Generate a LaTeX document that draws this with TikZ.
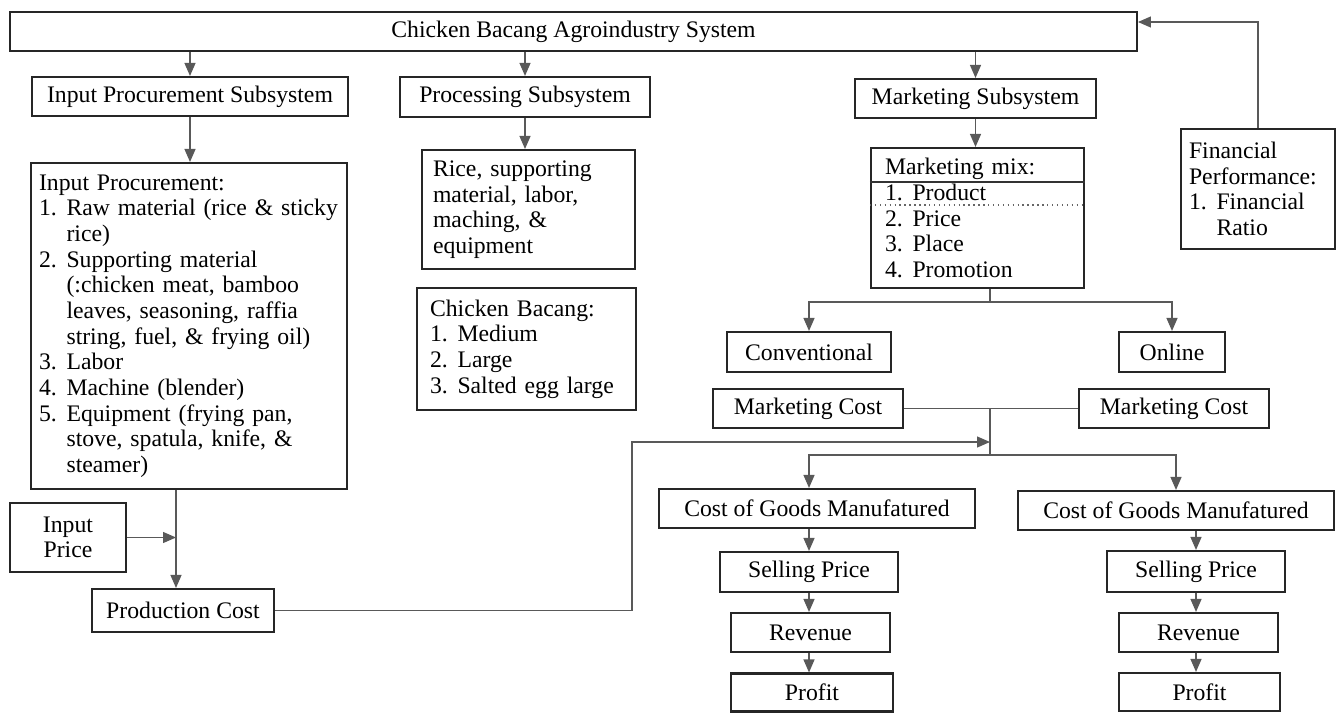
\documentclass[tikz,border=0pt]{standalone}
\usepackage{fontspec}
\setmainfont{Liberation Serif}
\usetikzlibrary{arrows.meta}
\newcommand{\itemno}[1]{\makebox[0.55cm][l]{#1}}
\newcommand{\itemind}{\hspace*{0.55cm}}
\begin{document}
\begin{tikzpicture}[x=0.02cm, y=-0.02cm,
    box/.style={draw=black!85, line width=1.2pt, rectangle, inner sep=0pt, font=\fontsize{13.5}{14.6}\selectfont},
    listbox/.style={box, align=left},
    link/.style={draw=black!65, line width=0.7pt},
    arr/.style={link, -{Triangle[length=2.6mm,width=2.2mm]}}]
\useasboundingbox (0,0) rectangle (1338,713);

\node[box, minimum width=22.54cm, minimum height=0.78cm] (sys) at (573.5,31.5) {Chicken Bacang Agroindustry System};
\node[box, minimum width=6.32cm, minimum height=0.78cm] (ips) at (190,96.5) {Input Procurement Subsystem};
\node[box, minimum width=5cm, minimum height=0.8cm] (pss) at (525,97) {Processing Subsystem};
\node[box, minimum width=4.82cm, minimum height=0.78cm] (mss) at (975.5,98.5) {Marketing Subsystem};

\node[listbox, text width=6cm, inner xsep=0.16cm, minimum height=6.52cm] (inp) at (189,326) {Input Procurement:\\
  \itemno{1.}Raw material (rice \& sticky\\
  \itemind rice)\\
  \itemno{2.}Supporting material\\
  \itemind (:chicken meat, bamboo\\
  \itemind leaves, seasoning, raffia\\
  \itemind string, fuel, \& frying oil)\\
  \itemno{3.}Labor\\
  \itemno{4.}Machine (blender)\\
  \itemno{5.}Equipment (frying pan,\\
  \itemind stove, spatula, knife, \&\\
  \itemind steamer)};
\node[listbox, text width=3.82cm, inner xsep=0.22cm, minimum height=2.38cm] (raw) at (528.5,209.5) {Rice, supporting\\ material, labor,\\ maching, \&\\ equipment};
\node[listbox, text width=3.86cm, inner xsep=0.26cm, minimum height=2.44cm] (prod) at (526.5,349) {Chicken Bacang:\\
  \itemno{1.}Medium\\
  \itemno{2.}Large\\
  \itemno{3.}Salted egg large};
\node[listbox, text width=3.7cm, inner xsep=0.28cm, minimum height=2.8cm] (mix) at (977.5,218) {Marketing mix:\\
  \itemno{1.}Product\\
  \itemno{2.}Price\\
  \itemno{3.}Place\\
  \itemno{4.}Promotion};
\node[listbox, text width=2.76cm, inner xsep=0.16cm, minimum height=2.4cm] (fin) at (1258,189) {Financial\\ Performance:\\
  \itemno{1.}Financial\\
  \itemind Ratio};

\node[box, minimum width=3.28cm, minimum height=0.8cm] (conv) at (809,352) {Conventional};
\node[box, minimum width=2.12cm, minimum height=0.8cm] (onl) at (1172,352) {Online};
\node[box, minimum width=3.8cm, minimum height=0.78cm] (mc1) at (808,408.5) {Marketing Cost};
\node[box, minimum width=3.8cm, minimum height=0.78cm] (mc2) at (1174,408.5) {Marketing Cost};
\node[box, minimum width=6.32cm, minimum height=0.78cm] (cgm1) at (817,508.5) {Cost of Goods Manufatured};
\node[box, minimum width=6.32cm, minimum height=0.78cm] (cgm2) at (1176,510.5) {Cost of Goods Manufatured};
\node[box, minimum width=3.56cm, minimum height=0.8cm] (sp1) at (809,572) {Selling Price};
\node[box, minimum width=3.18cm, minimum height=0.78cm] (rv1) at (810.5,632.5) {Revenue};
\node[box, minimum width=3.24cm, minimum height=0.76cm] (pf1) at (812,692.5) {Profit};
\node[box, minimum width=3.56cm, minimum height=0.82cm] (sp2) at (1196,571.5) {Selling Price};
\node[box, minimum width=3.18cm, minimum height=0.78cm] (rv2) at (1198.5,632.5) {Revenue};
\node[box, minimum width=3.22cm, minimum height=0.76cm] (pf2) at (1199.5,692) {Profit};
\node[box, align=center, minimum width=2.32cm, minimum height=1.38cm] (ipp) at (68,537.5) {Input\\ Price};
\node[box, minimum width=3.64cm, minimum height=0.86cm] (pc) at (183,610.5) {Production Cost};

\coordinate (mixa) at (977,182);
\coordinate (mixb) at (977,205);
\draw[black!80, line width=0.9pt] (mix.west |- mixa) -- (mix.east |- mixa);
\draw[black!60, line width=0.8pt, dotted] (mix.west |- mixb) -- (mix.east |- mixb);

\draw[arr] (sys.south -| ips.north) -- (ips.north);
\draw[arr] (sys.south -| pss.north) -- (pss.north);
\draw[arr] (sys.south -| mss.north) -- (mss.north);
\draw[arr] (ips.south) -- (ips.south |- inp.north);
\draw[arr] (pss.south) -- (pss.south |- raw.north);
\draw[arr] (mss.south) -- (mss.south |- mix.north);

\coordinate (fb) at (1260,22);
\draw[arr] (fin.north) |- (sys.east |- fb);

\coordinate (brm) at (990,302);
\draw[link] (mix.south -| brm) -- (brm);
\draw[arr] (brm) -| (conv.north);
\draw[arr] (brm) -| (onl.north);

\coordinate (jn) at (990,408.5);
\coordinate (brc) at (990,455);
\draw[link] (mc1.east) -- (mc2.west);
\draw[link] (jn) -- (brc);
\draw[arr] (brc) -| (sp1.north |- cgm1.north);
\draw[arr] (brc) -| (cgm2.north);

\coordinate (pj) at (176,537.5);
\draw[arr] (inp.south -| pj) -- (pc.north -| pj);
\draw[arr] (ipp.east) -- (pj);

\coordinate (pcr) at (632,442);
\draw[arr] (pc.east) -| (pcr) -- (pcr -| jn);

\draw[arr] (sp1.north |- cgm1.south) -- (sp1.north);
\draw[arr] (sp1.south) -- (sp1.south |- rv1.north);
\draw[arr] (sp1.south |- rv1.south) -- (sp1.south |- pf1.north);
\draw[arr] (sp2.north |- cgm2.south) -- (sp2.north);
\draw[arr] (sp2.south) -- (sp2.south |- rv2.north);
\draw[arr] (sp2.south |- rv2.south) -- (sp2.south |- pf2.north);
\end{tikzpicture}
\end{document}
